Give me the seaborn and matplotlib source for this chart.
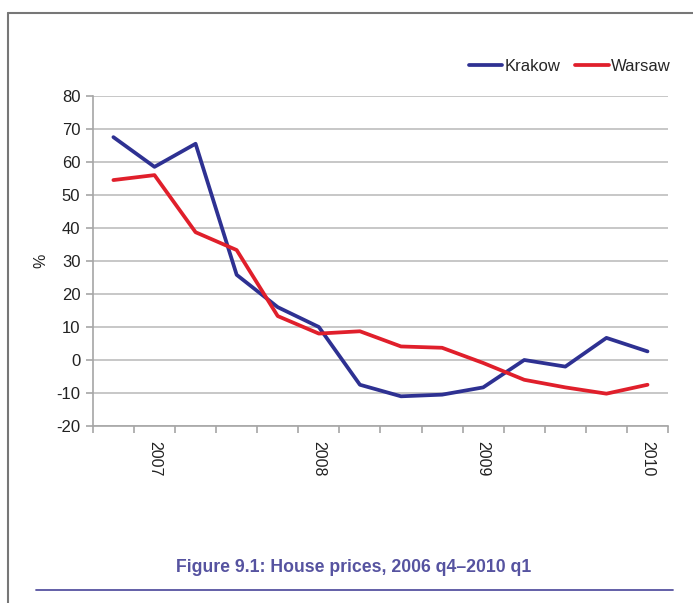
import matplotlib
matplotlib.use("Agg")
import matplotlib.pyplot as plt
from matplotlib.lines import Line2D
import seaborn as sns
import pandas as pd

quarters = ["2006q4", "2007q1", "2007q2", "2007q3", "2007q4",
            "2008q1", "2008q2", "2008q3", "2008q4",
            "2009q1", "2009q2", "2009q3", "2009q4", "2010q1"]
krakow = [67.5, 58.5, 65.5, 25.8, 16.0, 10.0, -7.5, -11.0, -10.5, -8.3, 0.0, -2.0, 6.7, 2.6]
warsaw = [54.5, 56.0, 38.7, 33.3, 13.3, 8.0, 8.7, 4.1, 3.7, -0.9, -6.0, -8.3, -10.2, -7.5]
year_labels = ["2007", "2008", "2009", "2010"]
year_positions = ["2007q1", "2008q1", "2009q1", "2010q1"]

sns.set_theme(style="white")
plt.rcParams["font.family"] = ["Liberation Sans", "DejaVu Sans"]
plt.rcParams["axes.unicode_minus"] = False

n = len(quarters)
df = pd.DataFrame({
    "idx": list(range(n)) * 2,
    "value": krakow + warsaw,
    "city": ["Krakow"] * n + ["Warsaw"] * n,
})
palette = {"Krakow": "#2e3192", "Warsaw": "#e01f2b"}

fig = plt.figure(figsize=(6.93, 6.03), dpi=100)
ax = fig.add_axes([0.134, 0.2935, 0.83, 0.5475])
sns.lineplot(data=df, x="idx", y="value", hue="city", palette=palette,
             linewidth=2.7, ax=ax, legend=False)

ax.set_xlim(-0.5, n - 0.5)
ax.set_ylim(-20, 80)
ax.set_yticks(range(-20, 81, 10))
ax.yaxis.grid(True, color="#bdbdbd", linewidth=1.2)
ax.set_axisbelow(True)
for s in ["top", "right"]:
    ax.spines[s].set_visible(False)
for s in ["left", "bottom"]:
    ax.spines[s].set_color("#a6a6a6")
    ax.spines[s].set_linewidth(1.2)

pos = [quarters.index(q) for q in year_positions]
ax.set_xticks(pos)
ax.set_xticklabels(year_labels, rotation=-90, fontsize=11.5, color="#222222")
ax.set_xticks([i - 0.5 for i in range(n + 1)], minor=True)
ax.tick_params(axis="x", which="major", length=0, pad=11)
ax.tick_params(axis="x", which="minor", length=5, color="#a6a6a6", width=1.2, bottom=True)
ax.tick_params(axis="y", length=5, color="#a6a6a6", width=1.2, left=True,
               labelsize=12, labelcolor="#222222", pad=4)
ax.set_xlabel("")
ax.set_ylabel("%", fontsize=11.5, color="#222222", labelpad=6)

handles = [Line2D([], [], color=palette[c], linewidth=2.7) for c in ["Krakow", "Warsaw"]]
fig.legend(handles, ["Krakow", "Warsaw"], loc="center right",
           bbox_to_anchor=(0.99, 0.89), ncol=2, frameon=False, fontsize=12,
           handlelength=2.0, handletextpad=0.15, columnspacing=0.9)

fig.text(354 / 693, 1 - 568 / 603, "Figure 9.1: House prices, 2006 q4\u20132010 q1",
         ha="center", va="center", fontsize=12.7, fontweight="bold", color="#5653a0")

# frame and rule
fig.add_artist(Line2D([8 / 693, 8 / 693], [0, 1 - 13 / 603], color="#777777", linewidth=1.5,
                      transform=fig.transFigure))
fig.add_artist(Line2D([8 / 693, 1.0], [1 - 13 / 603, 1 - 13 / 603], color="#777777", linewidth=1.5,
                      transform=fig.transFigure))
fig.add_artist(Line2D([36 / 693, 673 / 693], [1 - 590 / 603, 1 - 590 / 603], color="#5653a0",
                      linewidth=1.3, transform=fig.transFigure))

fig.savefig("out.png", dpi=100)
